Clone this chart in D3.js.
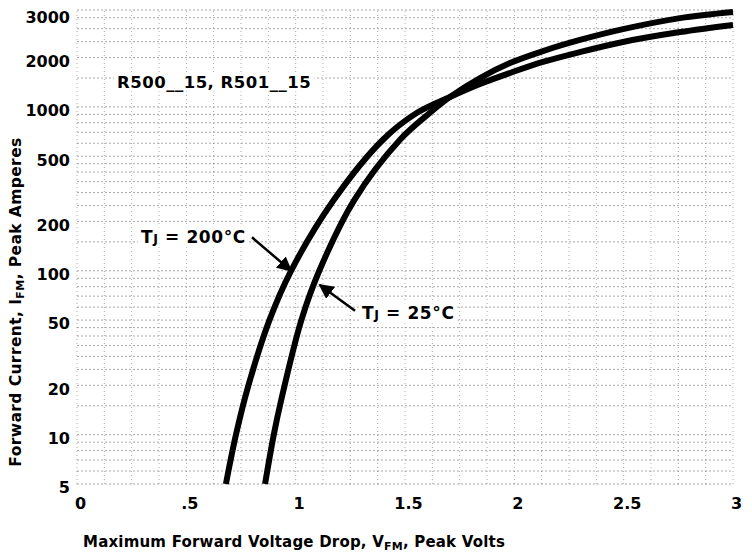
<!DOCTYPE html>
<html><head><meta charset="utf-8">
<script src="https://cdn.jsdelivr.net/npm/d3@7"></script>
<style>html,body{margin:0;padding:0;background:#fff}svg{display:block}</style>
</head><body><svg id="c" width="752" height="556"></svg>
<script>
// ---- data ----
const vfm200 = [0.681, 0.727, 0.784, 0.880, 0.979, 1.174, 1.399, 1.555, 1.706, 1.843, 1.980, 2.131, 2.300, 2.497, 2.758, 3.0];
const ifm200 = [5, 10, 20, 50, 100, 270, 630, 920, 1150, 1380, 1610, 1880, 2160, 2490, 2860, 3160];
const vfm25  = [0.860, 0.900, 0.934, 1.026, 1.108, 1.268, 1.477, 1.614, 1.706, 1.843, 1.980, 2.131, 2.300, 2.497, 2.758, 3.0];
const ifm25  = [5, 10, 16.3, 50, 100, 270, 630, 920, 1150, 1500, 1850, 2190, 2560, 2980, 3480, 3790];
const xTickValues = [0, 0.5, 1, 1.5, 2, 2.5, 3];
const xTickLabels = ["0", ".5", "1", "1.5", "2", "2.5", "3"];
const yTickValues = [5, 10, 20, 50, 100, 200, 500, 1000, 2000, 3900];
const yTickLabels = ["5", "10", "20", "50", "100", "200", "500", "1000", "2000", "3000"];
const yDomain = [5, 3900];
const xDomain = [0, 3];
const gridMultipliers = [1, 1.5, 2, 2.5, 3, 3.5, 4, 4.5, 5, 6, 7, 8, 9];
const decades = [1, 10, 100, 1000];
const xGridStep = 0.125;

const svg = d3.select("#c");
const x = d3.scaleLinear().domain(xDomain).range([77, 733]);
const y = d3.scaleLog().domain(yDomain).range([484, 10]);
const FONT = "'DejaVu Sans', 'Liberation Sans', Arial, sans-serif";

// grid
const yGrid = [];
decades.forEach(d => gridMultipliers.forEach(m => { const v = d * m; if (v >= yDomain[0] && v <= yDomain[1]) yGrid.push(v); }));
yGrid.push(yDomain[1]);
const xGrid = d3.range(xDomain[0], xDomain[1] + 1e-9, xGridStep);
const g = svg.append("g");
g.selectAll("line.h").data(yGrid).enter().append("line")
  .attr("x1", x(xDomain[0])).attr("x2", x(xDomain[1]))
  .attr("y1", d => y(d)).attr("y2", d => y(d))
  .attr("stroke", "#555").attr("stroke-width", 1).attr("stroke-dasharray", "2,2").attr("opacity", 0.5);
g.selectAll("line.v").data(xGrid).enter().append("line")
  .attr("x1", d => x(d)).attr("x2", d => x(d))
  .attr("y1", y(yDomain[0])).attr("y2", y(yDomain[1]))
  .attr("stroke", "#555").attr("stroke-width", 1).attr("stroke-dasharray", "1,3").attr("opacity", 0.5);

// axes labels
const yAxis = d3.axisLeft(y).tickValues(yTickValues).tickSize(0).tickPadding(0)
  .tickFormat((d, i) => yTickLabels[i]);
const ya = svg.append("g").attr("transform", "translate(70,0)").call(yAxis);
ya.select(".domain").remove();
ya.selectAll("text").attr("font-family", FONT).attr("font-weight", "bold").attr("font-size", 16)
  .attr("fill", "#000").attr("dy", (d) => d === yDomain[1] ? "0.75em" : "0.55em");

const xAxis = d3.axisBottom(x).tickValues(xTickValues).tickSize(0).tickPadding(0)
  .tickFormat((d, i) => xTickLabels[i]);
const xa = svg.append("g").attr("transform", "translate(3,498)").call(xAxis);
xa.select(".domain").remove();
xa.selectAll("text").attr("font-family", FONT).attr("font-weight", "bold").attr("font-size", 16).attr("fill", "#000");

// curves
const line = d3.line().x(d => x(d[0])).y(d => y(d[1])).curve(d3.curveCatmullRom.alpha(0.5));
const c200 = vfm200.map((v, i) => [v, ifm200[i]]);
const c25 = vfm25.map((v, i) => [v, ifm25[i]]);
[c200, c25].forEach(c => svg.append("path").datum(c).attr("d", line)
  .attr("fill", "none").attr("stroke", "#000").attr("stroke-width", 6).attr("stroke-linecap", "butt"));

// arrow marker
svg.append("defs").append("marker").attr("id", "ah").attr("viewBox", "0 0 10 10")
  .attr("refX", 9).attr("refY", 5).attr("markerWidth", 6).attr("markerHeight", 6).attr("orient", "auto")
  .append("path").attr("d", "M0,0L10,5L0,10z").attr("fill", "#000");

function label(txt, sub, rest, yv, anchorX, fs, ls) {
  const t = svg.append("text").attr("x", anchorX).attr("y", y(yv)).attr("font-family", FONT)
    .attr("font-weight", "bold").attr("font-size", fs).attr("dominant-baseline", "central")
    .attr("letter-spacing", ls);
  t.append("tspan").text(txt);
  if (sub) t.append("tspan").attr("font-size", fs * 0.75).attr("dy", 1).text(sub);
  if (rest) t.append("tspan").attr("dy", sub ? -1 : 0).text(rest);
  const bb = t.node().getBBox();
  svg.insert("rect", () => t.node()).attr("x", bb.x - 3).attr("y", bb.y).attr("width", bb.width + 6).attr("height", bb.height).attr("fill", "#fff");
  return t;
}

// part number
label("R500__15, R501__15", null, null, 1420, 117, 16.5, 0.5);

// Tj labels and arrows
label("T", "J", " = 200°C", 160, 141, 17, 0.6);
svg.append("line").attr("x1", 252).attr("y1", y(160)).attr("x2", x(0.979)).attr("y2", y(100))
  .attr("stroke", "#000").attr("stroke-width", 2.5).attr("marker-end", "url(#ah)");
label("T", "J", " = 25°C", 55, 362, 17, 0.6);
svg.append("line").attr("x1", 355).attr("y1", y(57)).attr("x2", x(1.11)).attr("y2", y(82))
  .attr("stroke", "#000").attr("stroke-width", 2.5).attr("marker-end", "url(#ah)");

// axis titles
const xt = svg.append("text").attr("x", 83).attr("y", 547).attr("font-family", FONT).attr("font-weight", "bold")
  .attr("font-size", 15).attr("letter-spacing", 0.2);
xt.append("tspan").text("Maximum Forward Voltage Drop, V");
xt.append("tspan").attr("font-size", 11).attr("dy", 3).text("FM");
xt.append("tspan").attr("dy", -3).text(", Peak Volts");

const yt = svg.append("text").attr("transform", "translate(21,302) rotate(-90)").attr("text-anchor", "middle")
  .attr("font-family", FONT).attr("font-weight", "bold").attr("font-size", 15.5).attr("letter-spacing", 0.4);
yt.append("tspan").text("Forward Current, I");
yt.append("tspan").attr("font-size", 11).attr("dy", 3).text("FM");
yt.append("tspan").attr("dy", -3).text(", Peak Amperes");
</script></body></html>
